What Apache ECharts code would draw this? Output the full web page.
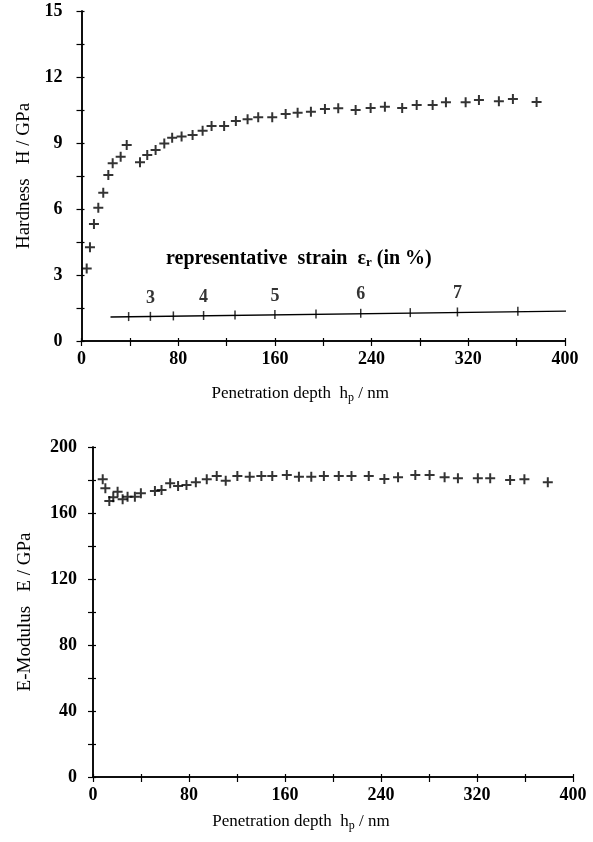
<!DOCTYPE html>
<html>
<head>
<meta charset="utf-8">
<script src="https://cdn.jsdelivr.net/npm/echarts@6/dist/echarts.min.js"></script>
<style>
  html, body { margin: 0; padding: 0; background: #fff; }
  #chart { width: 593px; height: 842px; }
</style>
</head>
<body>
<div id="chart"></div>
<script>
// hardness vs penetration depth (top panel)
const hardDepth = [4.3, 7.0, 10.3, 13.9, 18.0, 22.2, 25.8, 32.4, 37.4, 48.4, 54.4, 61.3, 68.5, 75.0, 82.8, 91.9, 100.2, 107.6, 118.0, 127.7, 137.4, 146.2, 157.8, 168.9, 178.8, 189.8, 201.4, 212.4, 226.8, 239.2, 251.0, 265.3, 277.3, 290.5, 301.5, 317.8, 328.8, 345.3, 356.9, 376.5];
const hardValue = [3.30, 4.26, 5.32, 6.06, 6.74, 7.55, 8.08, 8.38, 8.91, 8.12, 8.45, 8.68, 8.98, 9.24, 9.29, 9.36, 9.56, 9.77, 9.77, 10.0, 10.08, 10.17, 10.17, 10.32, 10.38, 10.42, 10.55, 10.58, 10.5, 10.59, 10.65, 10.59, 10.73, 10.73, 10.85, 10.85, 10.95, 10.9, 11.0, 10.86];

// E-modulus vs penetration depth (bottom panel)
const modDepth = [8.1, 10.3, 13.6, 16.9, 20.5, 24.7, 28.8, 34.9, 39.9, 51.6, 57.1, 64.3, 70.9, 77.9, 85.7, 94.8, 103.1, 110.6, 120.3, 130.6, 140.3, 149.4, 161.5, 171.6, 181.9, 192.4, 204.8, 215.4, 229.8, 242.8, 254.2, 268.6, 280.5, 293.0, 304.1, 320.7, 331.0, 347.6, 359.5, 379.0];
const modValue = [180.4, 175.0, 167.3, 169.5, 172.9, 168.3, 169.9, 169.9, 171.9, 173.3, 173.9, 178.0, 176.4, 177.0, 178.6, 180.4, 182.4, 179.6, 182.4, 182.0, 182.4, 182.4, 183.0, 182.0, 182.0, 182.4, 182.4, 182.4, 182.4, 180.6, 181.6, 183.0, 183.0, 181.6, 181.0, 181.0, 181.0, 180.0, 180.4, 178.6];

// representative strain scale drawn inside the top panel
const strainLineDepth = [24, 401];
const strainLineH = [1.09, 1.36];
const strainTickDepth = [39, 57, 76, 101, 127, 160, 194, 231, 272, 311, 361];
const strainTickH = [1.11, 1.12, 1.14, 1.16, 1.18, 1.2, 1.23, 1.26, 1.29, 1.32, 1.35];
const strainTickLabel = ['', '3', '', '4', '', '5', '', '6', '', '7', ''];

const FONT = 'Liberation Serif';
const plus = 'path://M4,0H6V4H10V6H6V10H4V6H0V4H4Z';

const pair = (xs, ys) => xs.map((x, i) => [x, ys[i]]);
const every = (step) => (v) => (Math.abs(v / step - Math.round(v / step)) < 1e-6 ? String(Math.round(v)) : '');

// one axis with outward ticks + labels, a twin with inward ticks only
function axisPair(kind, grid, min, max, interval, labelStep, name, nameGap, margin, shift) {
  const line = { lineStyle: { color: '#000', width: 1.5 } };
  const size = kind === 'x' ? 17 : 19;
  const main = {
    type: 'value', gridIndex: grid, min, max, interval,
    position: kind === 'x' ? 'bottom' : 'left',
    axisLine: line,
    axisTick: { length: 5, lineStyle: { color: '#000', width: 1.2 } },
    splitLine: { show: false },
    axisLabel: { formatter: every(labelStep), color: '#000', fontFamily: FONT, fontWeight: 'bold', fontSize: 18, margin },
    name, nameLocation: 'middle', nameGap,
    nameTextStyle: {
      color: '#000', fontFamily: FONT, fontSize: size,
      padding: kind === 'x' ? [0, shift, 0, 0] : 0,
      rich: {
        a: { fontFamily: FONT, fontSize: size, color: '#000' },
        s: { fontFamily: FONT, fontSize: 12, color: '#000', padding: [8, 0, 0, 0] }
      }
    }
  };
  const twin = {
    type: 'value', gridIndex: grid, min, max, interval,
    position: kind === 'x' ? 'bottom' : 'left',
    axisLine: line,
    axisTick: { inside: true, length: 3, lineStyle: { color: '#000', width: 1.2 } },
    axisLabel: { show: false },
    splitLine: { show: false }
  };
  return [main, twin];
}

const chart = echarts.init(document.getElementById('chart'), null, { renderer: 'canvas' });

const option = {
  backgroundColor: '#fff',
  animation: false,
  grid: [
    { left: 81.5, top: 11, width: 483.5, height: 330 },
    { left: 93, top: 447, width: 480, height: 330 }
  ],
  xAxis: [
    ...axisPair('x', 0, 0, 400, 40, 80, '{a|Penetration depth  h}{s|p}{a| / nm}', 43, 9, 46),
    ...axisPair('x', 1, 0, 400, 40, 80, '{a|Penetration depth  h}{s|p}{a| / nm}', 35, 9, 64)
  ],
  yAxis: [
    ...axisPair('y', 0, 0, 15, 1.5, 3, 'Hardness   H / GPa', 47, 19),
    ...axisPair('y', 1, 0, 200, 20, 40, 'E-Modulus   E / GPa', 58, 16)
  ],
  graphic: [
    {
      type: 'text', left: 166, top: 249,
      style: {
        text: '{b|representative  strain  ε}{r|r}{b| (in %)}',
        rich: {
          b: { fontFamily: FONT, fontSize: 20, fontWeight: 'bold', fill: '#000' },
          r: { fontFamily: FONT, fontSize: 13, fontWeight: 'bold', fill: '#000', padding: [8, 0, 0, 0] }
        }
      }
    }
  ],
  series: [
    {
      type: 'scatter', xAxisIndex: 0, yAxisIndex: 0,
      data: pair(hardDepth, hardValue),
      symbol: plus, symbolSize: 10,
      itemStyle: { color: '#000' }
    },
    {
      type: 'line', xAxisIndex: 0, yAxisIndex: 0,
      data: pair(strainLineDepth, strainLineH),
      symbol: 'none',
      lineStyle: { color: '#000', width: 1.3 }
    },
    {
      type: 'scatter', xAxisIndex: 0, yAxisIndex: 0,
      data: strainTickDepth.map((d, i) => ({ value: [d, strainTickH[i]], label: { show: strainTickLabel[i] !== '' } })),
      symbol: 'rect', symbolSize: [1.5, 9],
      itemStyle: { color: '#000' },
      label: {
        position: 'top', distance: 5,
        formatter: (p) => strainTickLabel[p.dataIndex],
        color: '#000', fontFamily: FONT, fontWeight: 'bold', fontSize: 18
      }
    },
    {
      type: 'scatter', xAxisIndex: 2, yAxisIndex: 2,
      data: pair(modDepth, modValue),
      symbol: plus, symbolSize: 10,
      itemStyle: { color: '#000' }
    }
  ]
};

chart.setOption(option);
</script>
</body>
</html>
